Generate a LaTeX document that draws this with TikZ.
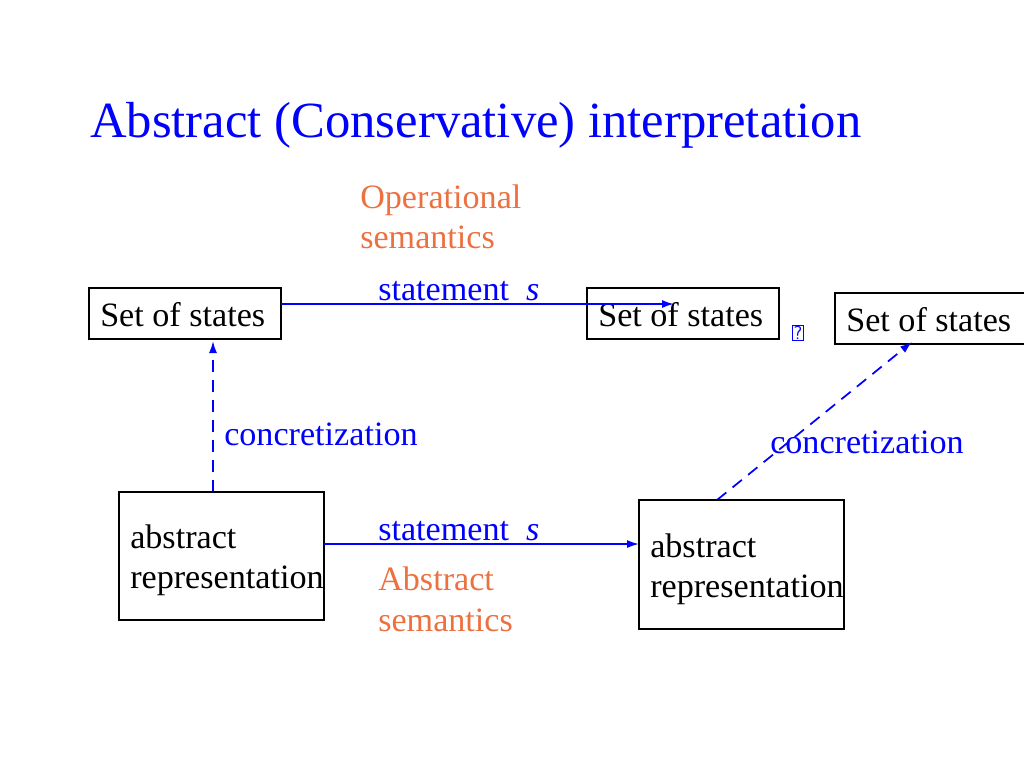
\documentclass[tikz,border=0pt]{standalone}
\usepackage{fontspec}
\setmainfont{Liberation Serif}
\usetikzlibrary{arrows.meta}
\definecolor{org}{RGB}{236,112,64}
\begin{document}
\begin{tikzpicture}[x=0.75pt,y=-0.75pt,
  bx/.style={draw,line width=1.3pt},
  tx/.style={anchor=base west,inner sep=0pt,font=\fontsize{25.6}{30}\selectfont},
  blu/.style={tx,text=blue},
  orn/.style={tx,text=org},
  arr/.style={blue,line width=1.3pt,-{Latex[length=9pt,width=6pt]}}]
\useasboundingbox (0,0) rectangle (1024,768);
\node[anchor=base west,inner sep=0pt,text=blue,font=\fontsize{38}{44}\selectfont] (title) at (90,137) {Abstract (Conservative) interpretation};
\node[orn] (op1) at (360,208) {Operational};
\node[orn] (op2) at (360,248) {semantics};
\draw[bx] (89,288) rectangle (281,339);
\coordinate (b1r) at (281,304); \coordinate (b1b) at (213,341);
\node[tx] (t1) at (100,326) {Set of states};
\draw[bx] (587,288) rectangle (779,339);
\node[tx] (t2) at (598,326) {Set of states};
\coordinate (b2in) at (674,304);
\draw[bx] (835,293) rectangle (1030,344);
\node[tx] (t3) at (846,331) {Set of states};
\coordinate (b3b) at (912,342);
\node[draw=blue,text=blue,inner sep=0.8pt,font=\fontsize{14}{15}\selectfont\sffamily] (sub) at (798,333) {?};
\node[blu] (s1) at (378,300) {statement\ \ \textit{s}};
\draw[arr] (b1r) -- (b2in);
\coordinate (c1) at (213,492);
\draw[arr,dashed,dash pattern=on 9pt off 6pt] (c1) -- (b1b);
\node[blu] (k1) at (224,445) {concretization};
\coordinate (c2) at (717,500);
\draw[arr,dashed,dash pattern=on 9pt off 6pt] (c2) -- (b3b);
\node[blu] (k2) at (770,453) {concretization};
\draw[bx] (119,492) rectangle (324,620);
\node[tx] (a1) at (130,548) {abstract};
\node[tx] (a2) at (130,588) {representation};
\draw[bx] (639,500) rectangle (844,629);
\node[tx] (a3) at (650,557) {abstract};
\node[tx] (a4) at (650,597) {representation};
\coordinate (b4r) at (324,544); \coordinate (b5l) at (639,544);
\draw[arr] (b4r) -- (b5l);
\node[blu] (s2) at (378,540) {statement\ \ \textit{s}};
\node[orn] (ab1) at (378,590) {Abstract};
\node[orn] (ab2) at (378,631) {semantics};
\end{tikzpicture}
\end{document}
